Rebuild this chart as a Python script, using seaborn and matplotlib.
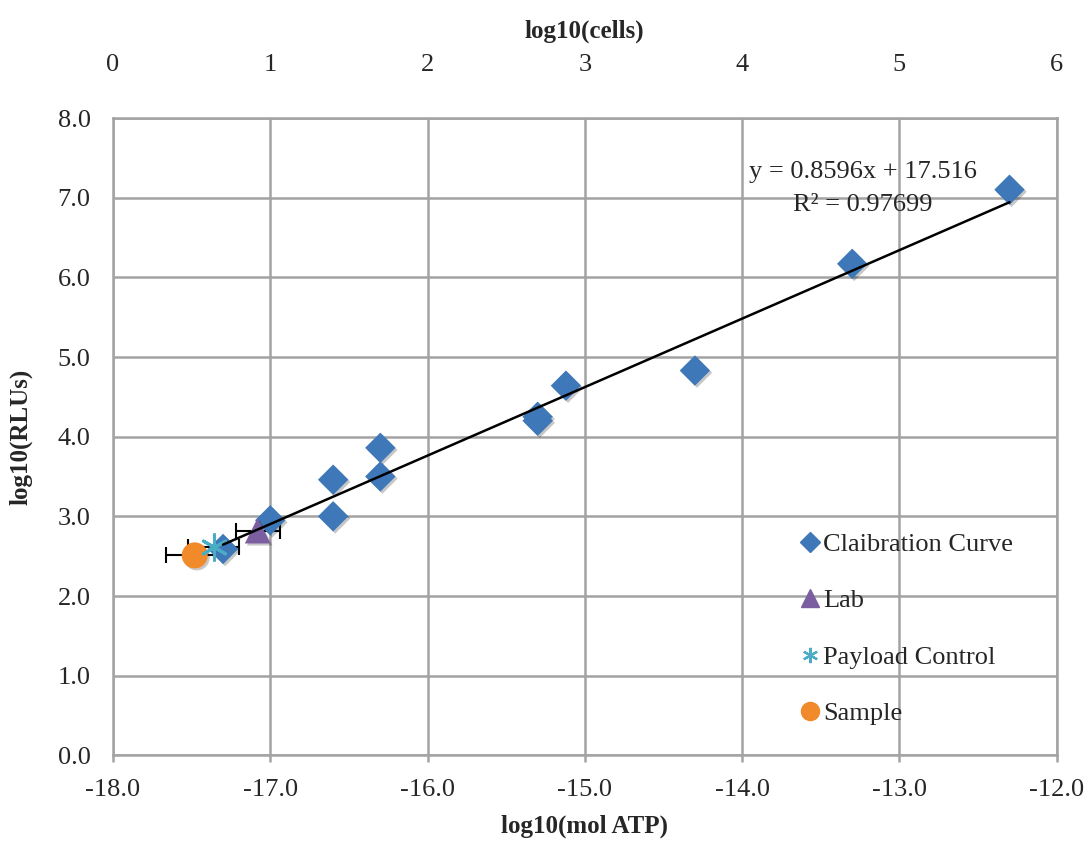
import numpy as np
import matplotlib
matplotlib.use("Agg")
import matplotlib.pyplot as plt
import matplotlib.patheffects as pe
from matplotlib.lines import Line2D
import seaborn as sns

# ----------------------------------------------------
# data
# ----------------------------------------------------
cal_x = [-12.3, -13.3, -14.3, -15.12, -15.3, -15.3, -16.3, -16.3, -16.6, -16.6, -17.0, -17.3]
cal_y = [7.1, 6.17, 4.83, 4.64, 4.25, 4.2, 3.86, 3.5, 3.46, 3.0, 2.95, 2.59]

lab_x, lab_y, lab_err = [-17.08], [2.82], [0.14]
payload_x, payload_y, payload_err = [-17.36], [2.62], [0.16]
sample_x, sample_y, sample_err = [-17.48], [2.51], [0.18]

slope, intercept, r2 = 0.8596, 17.516, 0.97699

x_ticks = [-18.0, -17.0, -16.0, -15.0, -14.0, -13.0, -12.0]
y_ticks = [0.0, 1.0, 2.0, 3.0, 4.0, 5.0, 6.0, 7.0, 8.0]
top_ticks = [0, 1, 2, 3, 4, 5, 6]
cells_offset = 18  # log10(cells) = log10(mol ATP) + 18

blue = "#3e78b9"
purple = "#7a5ea0"
teal = "#4bacc6"
orange = "#f08a2a"
grid_col = "#a3a3a3"

sns.set_style("white")
plt.rcParams["font.family"] = ["Liberation Serif", "DejaVu Serif"]

fig = plt.figure(figsize=(10.86, 8.43), dpi=100)
ax = fig.add_axes([0.104, 0.104, 0.869, 0.756])

shadow = [pe.SimplePatchShadow(offset=(1.5, -1.5), shadow_rgbFace="black", alpha=0.22),
          pe.Normal()]

# trend line
tx = np.array([min(cal_x), max(cal_x)])
ax.plot(tx, slope * tx + intercept, color="black", lw=1.8, zorder=6)

# calibration points
sns.scatterplot(x=cal_x, y=cal_y, marker="D", s=240, color=blue,
                edgecolor="none", ax=ax, zorder=4, path_effects=shadow)

# error bars
for xs, ys, es in [(lab_x, lab_y, lab_err), (payload_x, payload_y, payload_err),
                   (sample_x, sample_y, sample_err)]:
    ax.errorbar(xs, ys, xerr=es, fmt="none", ecolor="black", elinewidth=1.5,
                capsize=6, capthick=1.5, zorder=3)

sns.scatterplot(x=lab_x, y=lab_y, marker="^", s=340, color=purple,
                edgecolor="none", ax=ax, zorder=5, path_effects=shadow)
sns.scatterplot(x=sample_x, y=sample_y, marker="o", s=350, color=orange,
                edgecolor="none", ax=ax, zorder=5, path_effects=shadow)
ax.scatter(payload_x, payload_y, marker=(6, 2, 0), s=340, color=teal,
           linewidths=2.2, zorder=5)

# trend equation
ax.text(-13.23, 7.32, f"y = {slope}x + {intercept}", fontsize=19, ha="center", va="center")
ax.text(-13.23, 6.91, f"R² = {r2}", fontsize=19, ha="center", va="center")

# axes
ax.set_xlim(-18, -12)
ax.set_ylim(0, 8)
ax.set_xticks(x_ticks)
ax.set_yticks(y_ticks)
ax.set_xticklabels([f"{t:.1f}" for t in x_ticks], fontsize=19)
ax.set_yticklabels([f"{t:.1f}" for t in y_ticks], fontsize=19)
ax.grid(True, color=grid_col, lw=1.8)
ax.set_axisbelow(True)
for s in ax.spines.values():
    s.set_color(grid_col)
    s.set_linewidth(1.8)
ax.tick_params(axis="x", length=5, width=1.8, color=grid_col, pad=12, bottom=True)
ax.tick_params(axis="y", length=0, pad=16)
ax.set_xlabel("log10(mol ATP)", fontsize=18, fontweight="bold", labelpad=10)
ax.set_ylabel("log10(RLUs)", fontsize=18, fontweight="bold", labelpad=18)

top = ax.secondary_xaxis("top", functions=(lambda v: v + cells_offset,
                                           lambda v: v - cells_offset))
top.set_xticks(top_ticks)
top.set_xticklabels([str(t) for t in top_ticks], fontsize=19)
top.tick_params(length=0, pad=30)
top.spines["top"].set_visible(False)
top.set_xlabel("log10(cells)", fontsize=18, fontweight="bold", labelpad=12)

# legend
handles = [
    Line2D([], [], marker="D", ls="none", color=blue, markersize=10, label="Claibration Curve"),
    Line2D([], [], marker="^", ls="none", color=purple, markersize=13, label="Lab"),
    Line2D([], [], marker=(6, 2, 0), ls="none", color=teal, markersize=11, mew=1.6, label="Payload Control"),
    Line2D([], [], marker="o", ls="none", color=orange, markersize=13, label="Sample"),
]
ax.legend(handles=handles, loc="lower left", bbox_to_anchor=(0.705, 0.01), frameon=False,
          fontsize=19, labelspacing=1.25, handlelength=0.6, handletextpad=0.2)

fig.savefig("out.png", dpi=100)
